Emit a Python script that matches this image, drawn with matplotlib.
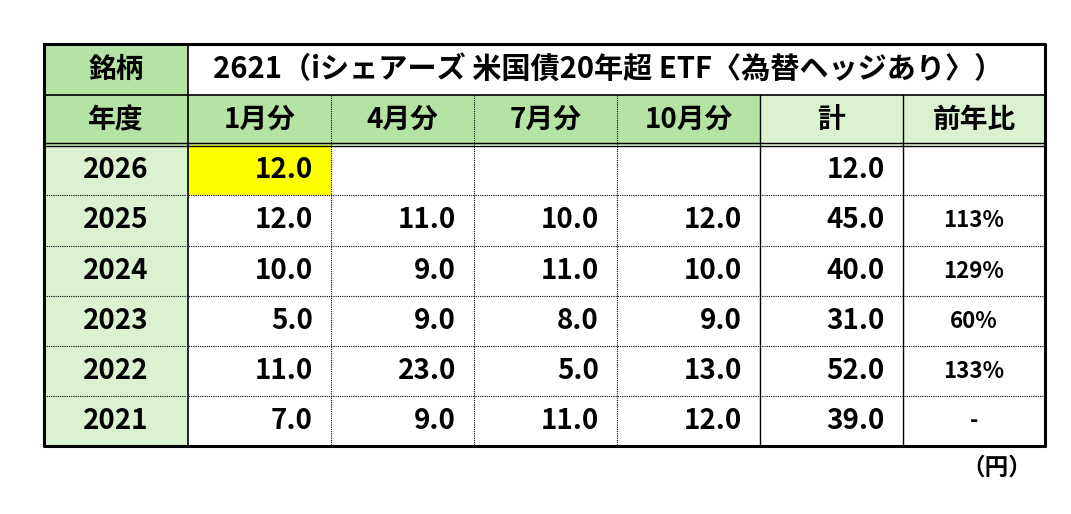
import matplotlib.pyplot as plt

plt.rcParams['font.family'] = ['Noto Sans CJK JP', 'DejaVu Sans']

title = "2621（iシェアーズ 米国債20年超 ETF〈為替ヘッジあり〉）"
headers = ["年度", "1月分", "4月分", "7月分", "10月分", "計", "前年比"]
years = ["2026", "2025", "2024", "2023", "2022", "2021"]
jan = ["12.0", "12.0", "10.0", "5.0", "11.0", "7.0"]
apr = ["", "11.0", "9.0", "9.0", "23.0", "9.0"]
jul = ["", "10.0", "11.0", "8.0", "5.0", "11.0"]
octo = ["", "12.0", "10.0", "9.0", "13.0", "12.0"]
total = ["12.0", "45.0", "40.0", "31.0", "52.0", "39.0"]
ratio = ["", "113%", "129%", "60%", "133%", "-"]

xs = [44, 188, 331, 474, 617, 760, 903, 1045]
ys = [44, 95, 145, 195, 246, 296, 346, 396, 446]
green = "#b5e3a3"
light = "#daf2d0"

fig = plt.figure(figsize=(10.71, 5.14), dpi=100)
ax = fig.add_axes([0, 0, 1, 1])
ax.set_xlim(0, 1071)
ax.set_ylim(514, 0)
ax.axis('off')


def cell(x0, x1, y0, y1, color):
    ax.fill([x0, x1, x1, x0], [y0, y0, y1, y1], color=color, lw=0, zorder=0)


# backgrounds
cell(xs[0], xs[1], ys[0], ys[2], green)
for c in range(1, 5):
    cell(xs[c], xs[c + 1], ys[1], ys[2], green)
cell(xs[5], xs[7], ys[1], ys[2], light)
cell(xs[0], xs[1], ys[2], ys[8], light)
cell(xs[1], xs[2], ys[2], ys[3], "#ffff00")

# lines
for y in ys[3:8]:
    ax.plot([xs[0], xs[7]], [y, y], color='black', lw=0.8, ls=(0, (1, 1)))
ax.plot([xs[0], xs[7]], [ys[1], ys[1]], color='black', lw=1.2)
ax.plot([xs[0], xs[7]], [ys[2] - 2, ys[2] - 2], color='black', lw=1.0)
ax.plot([xs[0], xs[7]], [ys[2] + 1, ys[2] + 1], color='black', lw=1.0)
ax.plot([xs[1], xs[1]], [ys[0], ys[8]], color='black', lw=1.2)
for x in xs[2:5]:
    ax.plot([x, x], [ys[1], ys[8]], color='black', lw=0.8, ls=(0, (1, 1)))
for x in xs[5:7]:
    ax.plot([x, x], [ys[1], ys[8]], color='black', lw=1.0)
ax.plot([xs[0], xs[7], xs[7], xs[0], xs[0]], [ys[0], ys[0], ys[8], ys[8], ys[0]],
        color='black', lw=2.2)

# text
fs = 20
ax.text((xs[0] + xs[1]) / 2, (ys[0] + ys[1]) / 2, "銘柄", ha='center', va='center',
        fontsize=fs, fontweight='bold')
ax.text(213, (ys[0] + ys[1]) / 2, title, ha='left', va='center',
        fontsize=21, fontweight='bold')
for c, h in enumerate(headers):
    ax.text((xs[c] + xs[c + 1]) / 2, (ys[1] + ys[2]) / 2, h, ha='center', va='center',
            fontsize=fs, fontweight='bold')

cols = [jan, apr, jul, octo, total]
for r in range(len(years)):
    yc = (ys[r + 2] + ys[r + 3]) / 2
    ax.text((xs[0] + xs[1]) / 2, yc, years[r], ha='center', va='center',
            fontsize=fs, fontweight='bold')
    for c, col in enumerate(cols):
        ax.text(xs[c + 2] - 18, yc, col[r], ha='right', va='center',
                fontsize=fs, fontweight='bold')
    ax.text((xs[6] + xs[7]) / 2, yc, ratio[r], ha='center', va='center',
            fontsize=16, fontweight='bold')

ax.text(1032, 468, "（円）", ha='right', va='center', fontsize=17, fontweight='bold')

fig.savefig("out.png", dpi=100)
